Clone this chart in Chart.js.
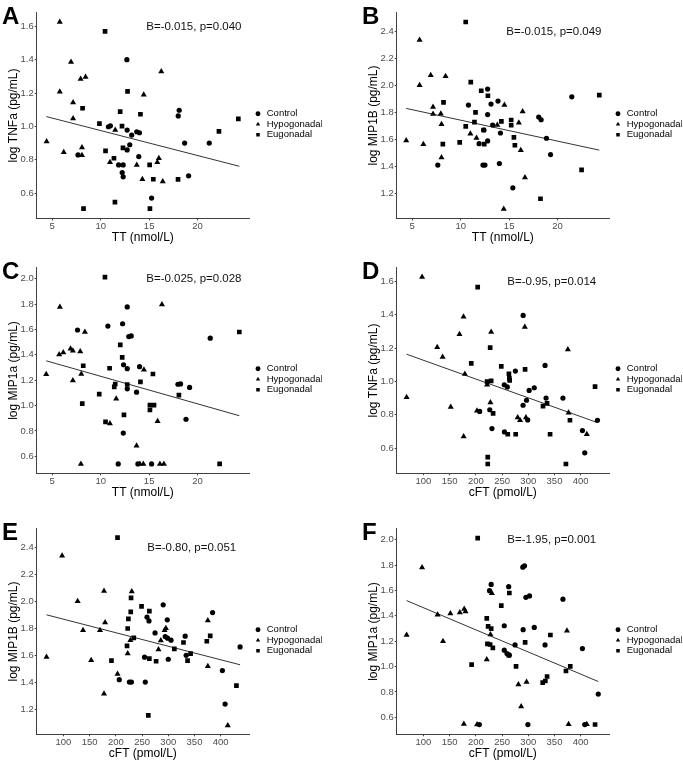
<!DOCTYPE html>
<html>
<head>
<meta charset="utf-8">
<script src="https://cdn.jsdelivr.net/npm/chart.js@4.4.1/dist/chart.umd.min.js"></script>
<style>
  body { margin: 0; background: #fff; width: 683px; height: 762px; position: relative; overflow: hidden;
         font-family: "Liberation Sans", Arial, sans-serif; }
  .panel { position: absolute; width: 322px; height: 250px; }
  .letter { position: absolute; left: 2px; top: 4px; font-size: 24px; line-height: 24px; font-weight: bold; color: #000; }
</style>
</head>
<body>

<script>
// ---- data ----
const groups = ["Control", "Hypogonadal", "Eugonadal"];

const ttTicks = [5, 10, 15, 20];
const cftTicks = [100, 150, 200, 250, 300, 350, 400];
const tnfTicks = [0.6, 0.8, 1.0, 1.2, 1.4, 1.6];
const mip1bTicks = [1.2, 1.4, 1.6, 1.8, 2.0, 2.2, 2.4];
const mip1aTicks = [0.6, 0.8, 1.0, 1.2, 1.4, 1.6, 1.8, 2.0];

// A: TT vs log TNFa
const aControl = [[12.7,1.40],[18.1,1.097],[18.0,1.063],[10.8,0.998],[11.0,1.004],[12.73,0.978],[13.72,0.968],[14.0,0.962],[13.2,0.948],[13.0,0.890],[7.66,0.829],[12.73,0.859],[13.93,0.819],[11.85,0.769],[12.32,0.769],[12.22,0.723],[12.32,0.698],[18.66,0.900],[19.07,0.704],[15.25,0.570],[21.2,0.900]];
const aHypo = [[5.78,1.626],[6.94,1.387],[7.93,1.284],[8.44,1.296],[5.78,1.208],[7.15,1.143],[7.15,1.047],[4.42,0.91],[6.19,0.845],[8.07,0.874],[8.07,0.827],[11.5,0.978],[10.96,0.785],[13.72,0.769],[15.84,0.785],[16.0,0.809],[14.3,0.683],[16.4,0.670],[14.44,1.19],[16.25,1.33]];
const aEugo = [[10.45,1.57],[12.77,1.21],[8.13,1.109],[12.01,1.089],[14.1,1.073],[9.87,1.017],[12.2,1.002],[10.5,0.853],[12.3,0.871],[11.37,0.809],[15.05,0.769],[15.43,0.683],[17.98,0.682],[11.47,0.546],[8.23,0.507],[15.08,0.507],[22.2,0.97],[24.2,1.045]];
const aFit = [[4.4,1.059],[24.3,0.761]];

// B: TT vs log MIP1B
const bControl = [[10.8,1.854],[12.78,1.972],[13.85,1.883],[13.13,1.861],[12.78,1.783],[13.3,1.706],[12.4,1.669],[11.9,1.568],[12.78,1.588],[14.1,1.647],[12.3,1.409],[12.5,1.409],[13.99,1.421],[15.38,1.241],[18.85,1.608],[19.27,1.487],[21.46,1.915],[18.05,1.765],[18.3,1.745],[7.64,1.409]];
const bHypo = [[5.76,2.336],[6.91,2.075],[8.44,2.068],[5.76,2.001],[7.15,1.839],[7.15,1.787],[7.95,1.790],[8.02,1.711],[4.38,1.591],[6.15,1.564],[8.02,1.465],[11.0,1.642],[11.63,1.610],[13.78,1.706],[14.51,1.854],[16.39,1.807],[16.0,1.723],[16.2,1.519],[16.63,1.318],[14.44,1.084]];
const bEugo = [[10.52,2.469],[11.04,2.024],[12.12,1.960],[12.81,1.923],[8.23,1.874],[11.53,1.800],[11.42,1.728],[10.52,1.696],[12.36,1.669],[14.2,1.733],[15.21,1.743],[15.21,1.704],[9.90,1.578],[8.16,1.564],[12.43,1.564],[15.49,1.615],[15.59,1.556],[18.23,1.160],[22.47,1.374],[24.3,1.928]];
const bFit = [[4.38,1.829],[24.3,1.52]];

// C: TT vs log MIP1a
const cControl = [[7.61,1.596],[10.74,1.627],[12.26,1.645],[12.74,1.778],[12.9,1.544],[13.15,1.549],[12.36,1.322],[12.74,1.291],[14.01,1.307],[12.74,1.132],[13.7,1.106],[12.33,0.783],[18.8,0.892],[17.97,1.168],[18.24,1.171],[19.17,1.143],[21.3,1.531],[11.81,0.54],[13.84,0.54],[15.25,0.54]];
const cHypo = [[5.79,1.778],[16.32,1.797],[8.37,1.580],[5.72,1.403],[6.14,1.419],[6.89,1.447],[7.13,1.432],[7.89,1.426],[4.38,1.247],[8.0,1.249],[7.13,1.197],[14.46,1.283],[11.6,1.054],[10.95,0.858],[15.87,0.876],[13.7,0.684],[7.96,0.54],[14.05,0.54],[14.4,0.54],[16.11,0.54],[16.52,0.54]];
const cEugo = [[10.44,2.013],[12.02,1.479],[12.22,1.380],[8.2,1.314],[10.92,1.294],[11.4,1.147],[11.5,1.17],[12.74,1.166],[14.1,1.187],[15.39,1.249],[9.85,1.090],[18.07,1.082],[8.1,1.015],[15.08,1.004],[15.5,1.004],[15.08,0.965],[12.4,0.926],[10.5,0.871],[22.27,0.54],[24.3,1.58]];
const cFit = [[4.38,1.353],[24.3,0.92]];

// D: cFT vs log TNFa
const dControl = [[290.2,1.396],[275.4,1.062],[332,1.096],[254.2,0.98],[260,0.967],[301.7,0.946],[311.4,0.962],[296.6,0.887],[290.1,0.857],[333.9,0.9],[366.1,0.9],[207.3,0.82],[226.5,0.83],[298.8,0.769],[230.7,0.717],[254.5,0.697],[403.3,0.705],[407.8,0.572],[432,0.767]];
const dHypo = [[97.4,1.626],[176.5,1.388],[168.8,1.283],[229.2,1.296],[126.3,1.205],[136.6,1.146],[179,1.045],[67.9,0.905],[152.1,0.846],[202.2,0.824],[227.8,0.874],[176.7,0.670],[221.5,0.98],[279.8,0.783],[284.3,0.767],[295.5,0.783],[293.4,1.326],[375.5,1.191],[376.9,0.812],[411.6,0.683]];
const dEugo = [[203.5,1.566],[227.3,1.203],[191.2,1.108],[248.5,1.09],[263.1,1.046],[263.9,1.018],[264.5,1.006],[221.5,0.999],[229.2,1.003],[293.9,1.072],[328.1,0.852],[335.8,0.868],[379.5,0.767],[232.9,0.808],[260.9,0.683],[276,0.683],[341.6,0.683],[222.7,0.546],[222.7,0.505],[371.8,0.505],[427.4,0.969]];
const dFit = [[67.9,1.163],[432,0.753]];

// E: cFT vs log MIP1B
const eControl = [[206.5,1.42],[225.8,1.402],[229.7,1.402],[256.1,1.402],[254.8,1.586],[259.4,1.883],[263.2,1.855],[290.3,1.974],[274.8,1.766],[298.1,1.863],[294.2,1.739],[298.7,1.727],[305.2,1.712],[300,1.571],[332.3,1.742],[334.2,1.6],[384.5,1.917],[403.2,1.487],[408.4,1.239],[437,1.662]];
const eHypo = [[97.4,2.338],[67.7,1.588],[127.1,2.001],[137.4,1.786],[152.9,1.563],[169.7,1.786],[177.4,2.076],[179.4,1.843],[177.4,1.316],[203.2,1.462],[230.3,2.073],[227.7,1.712],[222.6,1.613],[281.3,1.643],[285.8,1.709],[292.9,1.786],[295.5,1.80],[375.5,1.519],[375.5,1.858],[413.5,1.081]];
const eEugo = [[203.2,2.472],[229,2.026],[228.4,1.922],[223.9,1.870],[222.6,1.799],[221.3,1.670],[234.2,1.729],[249,1.962],[263.9,1.927],[263.9,1.576],[276.8,1.556],[191.6,1.561],[261.9,1.155],[311.6,1.648],[329,1.695],[336.8,1.561],[342.6,1.613],[373.5,1.704],[380,1.744],[430,1.375]];
const eFit = [[67.7,1.90],[437,1.53]];

// F: cFT vs log MIP1a
const fControl = [[289.6,1.784],[292.8,1.794],[229.2,1.648],[226,1.598],[262.6,1.630],[295.4,1.546],[302.4,1.557],[254.2,1.322],[290.2,1.291],[311.4,1.309],[254.2,1.129],[259.4,1.103],[263.9,1.09],[274.8,1.171],[332,1.171],[366.1,1.531],[403.3,1.142],[433.5,0.783],[299.3,0.543],[407.8,0.543],[206.7,0.543]];
const fHypo = [[97.4,1.781],[67.9,1.249],[127,1.408],[137.3,1.200],[151.4,1.419],[169.4,1.427],[177.8,1.453],[180.3,1.434],[230.5,1.578],[227.9,1.252],[220.8,1.056],[281.2,0.858],[296.7,0.879],[286.4,0.686],[177.1,0.548],[373.8,1.283],[376.9,0.546],[411.6,0.546],[202.3,0.543]];
const fEugo = [[203.5,2.013],[220.8,1.380],[223.4,1.317],[229.2,1.299],[248.5,1.481],[263.9,1.580],[222.1,1.179],[227.2,1.174],[232.4,1.148],[262.6,1.090],[191.9,1.015],[276.7,1.002],[294,1.191],[342.2,1.249],[371.9,0.965],[380.1,1.002],[327.5,0.874],[332.6,0.886],[335.9,0.922],[427.4,0.543]];
const fFit = [[67.9,1.520],[433.5,0.882]];

// ---- axes ----
const xAxes = {
  TT:  { title: "TT (nmol/L)",  min: 3.4, max: 25.3, ticks: ttTicks, noteX: 14.7 },
  cFT: { title: "cFT (pmol/L)", min: 49,  max: 454,  ticks: cftTicks, noteX: 260 }
};
const yAxes = {
  TNFa:  { title: "log TNFa (pg/mL)",  min: 0.449, max: 1.682, ticks: tnfTicks,   noteY: 1.6 },
  MIP1B: { title: "log MIP1B (pg/mL)", min: 1.015, max: 2.538, ticks: mip1bTicks, noteY: 2.4 },
  MIP1a: { title: "log MIP1a (pg/mL)", min: 0.466, max: 2.087, ticks: mip1aTicks, noteY: 2.0 }
};

const panels = [
  { letter: "A", x: "TT",  y: "TNFa",  series: [aControl, aHypo, aEugo], fit: aFit, note: "B=-0.015, p=0.040", left: 0,   top: 0 },
  { letter: "B", x: "TT",  y: "MIP1B", series: [bControl, bHypo, bEugo], fit: bFit, note: "B=-0.015, p=0.049", left: 360, top: 0 },
  { letter: "C", x: "TT",  y: "MIP1a", series: [cControl, cHypo, cEugo], fit: cFit, note: "B=-0.025, p=0.028", left: 0,   top: 255 },
  { letter: "D", x: "cFT", y: "TNFa",  series: [dControl, dHypo, dEugo], fit: dFit, note: "B=-0.95, p=0.014",  left: 360, top: 255 },
  { letter: "E", x: "cFT", y: "MIP1B", series: [eControl, eHypo, eEugo], fit: eFit, note: "B=-0.80, p=0.051",  left: 0,   top: 516 },
  { letter: "F", x: "cFT", y: "MIP1a", series: [fControl, fHypo, fEugo], fit: fFit, note: "B=-1.95, p=0.001",  left: 360, top: 516 }
];

const shapes = ["circle", "triangle", "rect"];
const radii = [2.6, 3.5, 3.3];
const axisCol = "#404040";
const font = '"Liberation Sans", Arial, sans-serif';

Chart.defaults.font.family = font;
Chart.defaults.color = "#000";

const notePlugin = {
  id: "note",
  afterDatasetsDraw(chart, args, opts) {
    const { ctx, scales } = chart;
    ctx.save();
    ctx.font = "11.5px " + font;
    ctx.fillStyle = "#111";
    ctx.textAlign = "left";
    ctx.textBaseline = "middle";
    ctx.fillText(opts.text, scales.x.getPixelForValue(opts.x), scales.y.getPixelForValue(opts.y));
    ctx.restore();
  }
};

// move the legend a bit off the plot, like ggplot does
const legendNudge = {
  id: "legendNudge",
  afterLayout(chart) {
    const lg = chart.legend;
    lg.left += 4; lg.right += 4;
    lg.top -= 4; lg.bottom -= 4;
  }
};

function makeTicks(list) {
  return function (scale) { scale.ticks = list.map(v => ({ value: v })); };
}

panels.forEach(p => {
  const xa = xAxes[p.x], ya = yAxes[p.y];
  const div = document.createElement("div");
  div.className = "panel";
  div.style.left = p.left + "px";
  div.style.top = p.top + "px";
  const cv = document.createElement("canvas");
  cv.width = 322; cv.height = 250;
  div.appendChild(cv);
  const lt = document.createElement("div");
  lt.className = "letter";
  lt.textContent = p.letter;
  div.appendChild(lt);
  document.body.appendChild(div);

  const datasets = groups.map((g, i) => ({
    label: g,
    data: p.series[i].map(d => ({ x: d[0], y: d[1] })),
    pointStyle: shapes[i],
    pointRadius: radii[i],
    backgroundColor: "#000",
    borderColor: "#000",
    borderWidth: 0
  }));
  datasets.push({
    label: "",
    data: p.fit.map(d => ({ x: d[0], y: d[1] })),
    showLine: true,
    pointRadius: 0,
    borderColor: "#333",
    borderWidth: 1
  });

  new Chart(cv, {
    type: "scatter",
    data: { datasets: datasets },
    plugins: [notePlugin, legendNudge],
    options: {
      responsive: false,
      animation: false,
      events: [],
      layout: { padding: { left: 7.5, top: 12.7, right: 0, bottom: 6.2 } },
      scales: {
        x: {
          type: "linear", min: xa.min, max: xa.max,
          afterBuildTicks: makeTicks(xa.ticks),
          grid: { drawOnChartArea: false, drawTicks: true, tickLength: 2, color: axisCol },
          border: { display: true, color: axisCol, width: 1 },
          ticks: { color: "#4d4d4d", font: { size: 9.5, lineHeight: 1 }, padding: 1, maxRotation: 0, autoSkip: false },
          title: { display: true, text: xa.title, color: "#000", font: { size: 12, lineHeight: 1 }, padding: 0 }
        },
        y: {
          type: "linear", min: ya.min, max: ya.max,
          afterBuildTicks: makeTicks(ya.ticks),
          grid: { drawOnChartArea: false, drawTicks: true, tickLength: 2, color: axisCol },
          border: { display: true, color: axisCol, width: 1 },
          ticks: { color: "#4d4d4d", font: { size: 9.5, lineHeight: 1 }, padding: 1, callback: v => v.toFixed(1) },
          title: { display: true, text: ya.title, color: "#000", font: { size: 12, lineHeight: 1 }, padding: 0 }
        }
      },
      plugins: {
        tooltip: { enabled: false },
        note: { text: p.note, x: xa.noteX, y: ya.noteY },
        legend: {
          position: "right",
          maxWidth: 73,
          labels: {
            usePointStyle: true,
            boxWidth: 8,
            boxHeight: 3.5,
            padding: 1,
            color: "#000",
            font: { size: 9.5 },
            filter: item => item.text !== ""
          }
        }
      }
    }
  });
});
</script>
</body>
</html>
